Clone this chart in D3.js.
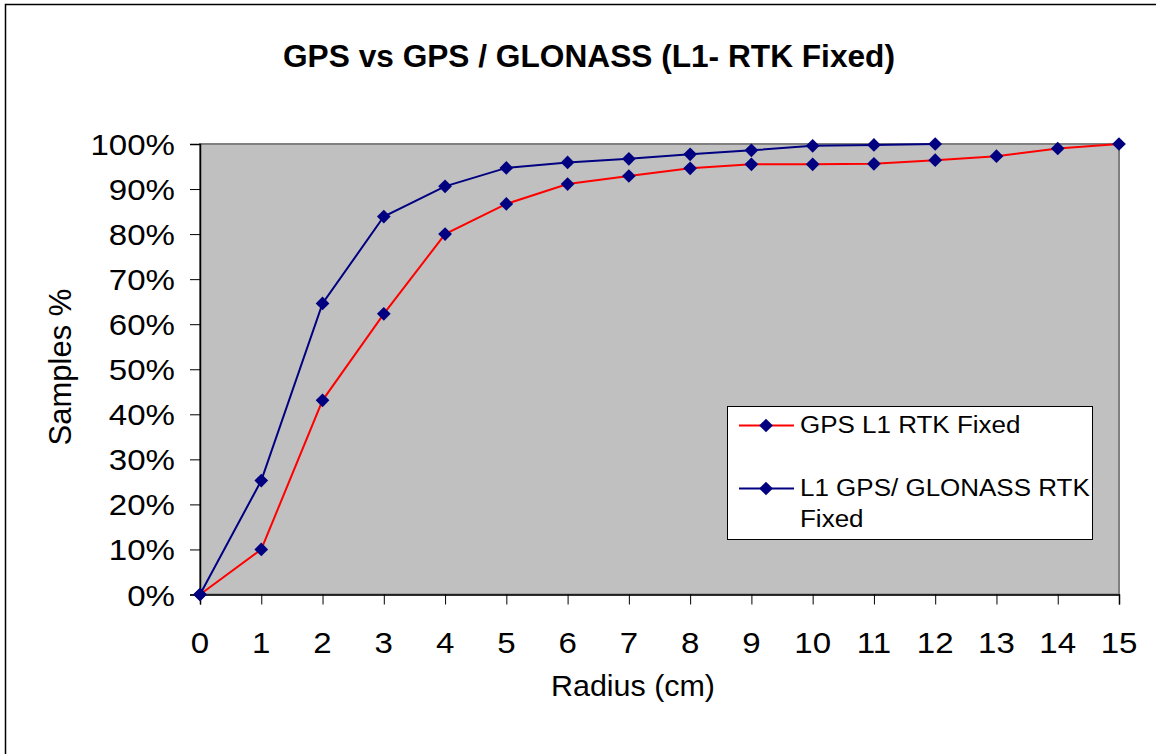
<!DOCTYPE html>
<html>
<head>
<meta charset="utf-8">
<script src="https://cdn.jsdelivr.net/npm/d3@7/dist/d3.min.js"></script>
<style>
  html, body { margin: 0; padding: 0; background: #fff; }
  svg { display: block; }
  text { font-family: "Liberation Sans", Arial, sans-serif; fill: #000; }
</style>
</head>
<body>
<svg id="chart" width="1156" height="754"></svg>
<script>
// Cumulative share of samples within a given horizontal radius
const radius = [0, 1, 2, 3, 4, 5, 6, 7, 8, 9, 10, 11, 12, 13, 14, 15];
const gpsL1 = [0, 10, 43.1, 62.3, 80.0, 86.7, 91.1, 92.9, 94.6, 95.5, 95.5, 95.6, 96.4, 97.3, 99.0, 100];
const gpsGlonassL1 = [0, 25.3, 64.6, 83.9, 90.6, 94.7, 95.9, 96.7, 97.7, 98.6, 99.6, 99.8, 100];
const xTicks = [0, 1, 2, 3, 4, 5, 6, 7, 8, 9, 10, 11, 12, 13, 14, 15];
const yTicks = [0, 10, 20, 30, 40, 50, 60, 70, 80, 90, 100];
const seriesNames = ["GPS L1 RTK Fixed", "L1 GPS/ GLONASS RTK|Fixed"];
const seriesColors = ["#ff0000", "#000080"];
const markerColor = "#000080";

const svg = d3.select("#chart");
const plot = { left: 200, right: 1119, top: 144, bottom: 594.5 };

const x = d3.scaleLinear().domain([0, 15]).range([plot.left, plot.right]);
const y = d3.scaleLinear().domain([0, 100]).range([plot.bottom, plot.top]);

// outer chart frame
svg.append("rect")
  .attr("x", 5.5).attr("y", 4.5).attr("width", 1160).attr("height", 760)
  .attr("fill", "#fff").attr("stroke", "#000").attr("stroke-width", 1.5);

// text helper with optional horizontal glyph stretch
function label(g, tx, ty, str, size, opts = {}) {
  return g.append("text")
    .attr("transform", `translate(${tx},${ty}) ${opts.rotate ? "rotate(-90)" : ""} scale(${opts.stretch ?? 1},1)`)
    .attr("text-anchor", opts.anchor || "middle")
    .attr("font-size", size)
    .attr("font-weight", opts.bold ? "bold" : null)
    .text(str);
}

// title
svg.append("text")
  .attr("x", 283).attr("y", 67)
  .attr("font-size", 31).attr("font-weight", "bold")
  .attr("textLength", 612).attr("lengthAdjust", "spacingAndGlyphs")
  .text("GPS vs GPS / GLONASS (L1- RTK Fixed)");

// plot area
svg.append("rect")
  .attr("x", plot.left).attr("y", plot.top)
  .attr("width", plot.right - plot.left).attr("height", plot.bottom - plot.top)
  .attr("fill", "#c0c0c0").attr("stroke", "#808080").attr("stroke-width", 2);

// axes
const xAxis = d3.axisBottom(x).tickValues(xTicks).tickSize(10).tickFormat("");
const yAxis = d3.axisLeft(y).tickValues(yTicks).tickSize(10).tickFormat("");
const gx = svg.append("g").attr("transform", `translate(0,${plot.bottom})`).call(xAxis);
const gy = svg.append("g").attr("transform", `translate(${plot.left},0)`).call(yAxis);
[gx, gy].forEach(g => {
  g.select(".domain").attr("stroke", "#000").attr("stroke-width", 1.5);
  g.selectAll(".tick line").attr("stroke", "#000").attr("stroke-width", 1);
});

// tick labels
xTicks.forEach(t => label(svg, x(t), 653, String(t), 29, { stretch: 1.14 }));
yTicks.forEach(t => label(svg, 175, y(t) + 11, t + "%", 29, { anchor: "end", stretch: 1.14 }));

// axis titles
label(svg, 633, 696, "Radius (cm)", 29, { stretch: 1.05 });
label(svg, 71, 367, "Samples %", 31, { rotate: true });

// series
const line = d3.line().x((d, i) => x(radius[i])).y(d => y(d));
const diamond = d3.symbol().type(d3.symbolDiamond2).size(120);
[gpsL1, gpsGlonassL1].forEach((vals, k) => {
  svg.append("path").datum(vals)
    .attr("d", line).attr("fill", "none")
    .attr("stroke", seriesColors[k]).attr("stroke-width", 2);
});
[gpsL1, gpsGlonassL1].forEach(vals => {
  svg.append("g").selectAll("path").data(vals).join("path")
    .attr("transform", (d, i) => `translate(${x(radius[i])},${y(d)})`)
    .attr("d", diamond).attr("fill", markerColor);
});

// legend
const lg = svg.append("g");
lg.append("rect")
  .attr("x", 727.5).attr("y", 406.5).attr("width", 365).attr("height", 133)
  .attr("fill", "#fff").attr("stroke", "#000").attr("stroke-width", 1);
const rowY = [425.5, 488.5];
seriesNames.forEach((name, k) => {
  lg.append("line")
    .attr("x1", 739).attr("x2", 794).attr("y1", rowY[k]).attr("y2", rowY[k])
    .attr("stroke", seriesColors[k]).attr("stroke-width", 2);
  lg.append("path").attr("transform", `translate(766,${rowY[k]})`)
    .attr("d", diamond).attr("fill", markerColor);
  name.split("|").forEach((part, j) => {
    label(lg, 800, rowY[k] + 7.5 + j * 31, part, 23, { anchor: "start", stretch: 1.13 });
  });
});
</script>
</body>
</html>
